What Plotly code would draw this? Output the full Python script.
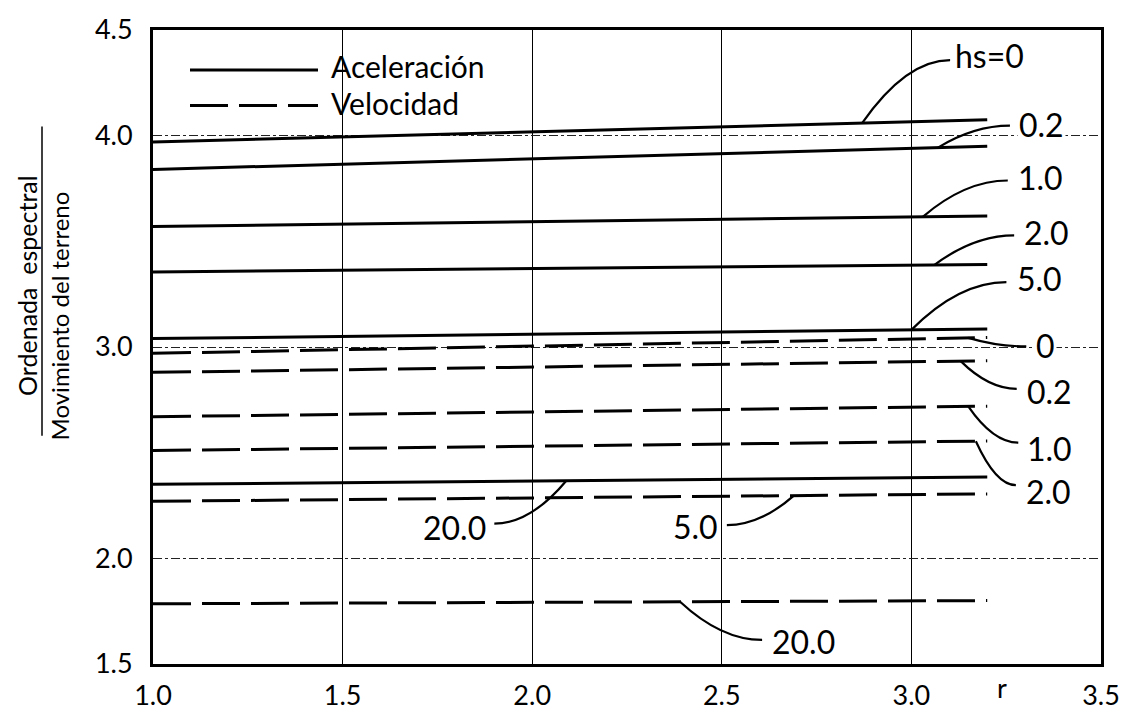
import plotly.graph_objects as go

# ---------------- data ----------------
r_start = 1.0
r_end = 3.2
hs_values = ["0", "0.2", "1.0", "2.0", "5.0", "20.0"]

# Aceleración (solid) ordinate at r = r_start and r = r_end
acel_start = [3.97, 3.84, 3.57, 3.355, 3.04, 2.35]
acel_end = [4.075, 3.95, 3.62, 3.39, 3.085, 2.385]
# Velocidad (dashed)
vel_start = [2.97, 2.88, 2.67, 2.51, 2.27, 1.785]
vel_end = [3.045, 2.935, 2.72, 2.555, 2.305, 1.80]

x_ticks = [1.0, 1.5, 2.0, 2.5, 3.0, 3.5]
y_ticks = [1.5, 2.0, 3.0, 4.0, 4.5]

# curve labels: where the leader touches the curve (r) and label text
acel_label_text = ["hs=0", "0.2", "1.0", "2.0", "5.0", "20.0"]
acel_label_r = [2.87, 3.07, 3.03, 3.06, 3.0, 2.09]
vel_label_text = ["0", "0.2", "1.0", "2.0", "5.0", "20.0"]
vel_label_r = [3.15, 3.13, 3.15, 3.17, 2.69, 2.39]

# ---------------- layout constants ----------------
FONT = "Lato"
W, H = 1144, 723
ML, MR, MT, MB = 153, 43, 22, 37
PW, PH = W - ML - MR, H - MT - MB
XR, YR = (1.0, 3.5), (1.5, 4.5)
DASH = "38px,11px"
LABEL_SIZE = 32

# leader end offset (px from anchor), text offset (px), text side
acel_leader = [(88, -66), (72, -23), (85, -38), (80, -31), (95, -50), (-72, 45)]
acel_text = [(91, -68), (79, -23), (93, -39), (88, -33), (104, -51), (-78, 47)]
vel_leader = [(58, 9), (56, 29), (50, 38), (40, 46), (-67, 31), (82, 40)]
vel_text = [(66, 8), (64, 30), (57, 42), (48, 50), (-74, 31), (90, 40)]


def interp(r, r0, r1, y0, y1):
    return y0 + (y1 - y0) * (r - r0) / (r1 - r0)


def px_to_dx(p):
    return p * (XR[1] - XR[0]) / PW


def px_to_dy(p):
    return -p * (YR[1] - YR[0]) / PH


def py_to_paper(py):
    return (H - MB - py) / PH


fig = go.Figure()

for i, hs in enumerate(hs_values):
    fig.add_trace(go.Scatter(
        x=[r_start, r_end], y=[acel_start[i], acel_end[i]],
        mode="lines", name=f"Aceleración hs={hs}",
        line=dict(color="black", width=3), showlegend=False))
    fig.add_trace(go.Scatter(
        x=[r_start, r_end], y=[vel_start[i], vel_end[i]],
        mode="lines", name=f"Velocidad hs={hs}",
        line=dict(color="black", width=3, dash=DASH), showlegend=False))

annotations = []
shapes = []
for i in range(len(hs_values)):
    for text, rr, starts, ends, lead, toff in (
        (acel_label_text[i], acel_label_r[i], acel_start, acel_end, acel_leader[i], acel_text[i]),
        (vel_label_text[i], vel_label_r[i], vel_start, vel_end, vel_leader[i], vel_text[i]),
    ):
        ya = interp(rr, r_start, r_end, starts[i], ends[i])
        xe, ye = rr + px_to_dx(lead[0]), ya + px_to_dy(lead[1])
        xc, yc = rr + px_to_dx(0.5 * lead[0]), ye
        shapes.append(dict(type="path", xref="x", yref="y",
                           path=f"M {rr},{ya} Q {xc},{yc} {xe},{ye}",
                           line=dict(color="black", width=2.2)))
        annotations.append(dict(
            x=rr, y=ya, xref="x", yref="y", text=text, showarrow=False,
            xshift=toff[0], yshift=-toff[1],
            xanchor="left" if toff[0] > 0 else "right", yanchor="middle",
            bgcolor="white", borderpad=1,
            font=dict(family=FONT, size=LABEL_SIZE, color="black")))

# legend (drawn manually to match the long line samples)
leg_x0, leg_x1, leg_tx = (190 - ML) / PW, (318 - ML) / PW, (330 - ML) / PW
leg_items = [("Aceleración", 64, 60, "solid"), ("Velocidad", 101, 98, DASH)]
for label, ly, ty, dash in leg_items:
    shapes.append(dict(type="line", xref="paper", yref="paper", x0=leg_x0, x1=leg_x1,
                       y0=py_to_paper(ly), y1=py_to_paper(ly),
                       line=dict(color="black", width=3, dash=dash)))
    annotations.append(dict(x=leg_tx, y=py_to_paper(ty), xref="paper", yref="paper",
                            text=label, showarrow=False, xanchor="left", yanchor="middle",
                            borderpad=0,
                            font=dict(family=FONT, size=30, color="black")))

# y-axis title as a fraction
shapes.append(dict(type="line", xref="paper", yref="paper",
                   x0=(42 - ML) / PW, x1=(42 - ML) / PW,
                   y0=py_to_paper(447), y1=py_to_paper(123),
                   line=dict(color="black", width=1.5)))
annotations.append(dict(x=(27 - ML) / PW, y=py_to_paper(290), xref="paper", yref="paper",
                        text="Ordenada  espectral", textangle=-90, showarrow=False,
                        xanchor="center", yanchor="middle",
                        font=dict(family=FONT, size=25, color="black")))
annotations.append(dict(x=(59 - ML) / PW, y=py_to_paper(322), xref="paper", yref="paper",
                        text="Movimiento del terreno", textangle=-90, showarrow=False,
                        xanchor="center", yanchor="middle",
                        font=dict(family=FONT, size=24, color="black")))
# x-axis title "r"
annotations.append(dict(x=3.24, y=py_to_paper(H - 12), xref="x", yref="paper", text="r",
                        showarrow=False, xanchor="center", yanchor="middle",
                        font=dict(family=FONT, size=27, color="black")))

fig.update_layout(
    width=W, height=H,
    margin=dict(l=ML, r=MR, t=MT, b=MB),
    paper_bgcolor="white", plot_bgcolor="white",
    font=dict(family=FONT, color="black"),
    annotations=annotations, shapes=shapes,
    xaxis=dict(range=list(XR), tickvals=x_ticks,
               ticktext=[f"{v:.1f}" for v in x_ticks],
               showgrid=True, gridcolor="black", gridwidth=1,
               showline=True, linecolor="black", linewidth=3, mirror=True,
               zeroline=False, ticks="", ticklabelstandoff=6,
               tickfont=dict(family=FONT, size=27, color="black")),
    yaxis=dict(range=list(YR), tickvals=y_ticks,
               ticktext=[f"{v:.1f}" for v in y_ticks],
               showgrid=True, gridcolor="#222", gridwidth=1, griddash="dashdot",
               showline=True, linecolor="black", linewidth=3, mirror=True,
               zeroline=False, ticks="", ticklabelstandoff=12,
               tickfont=dict(family=FONT, size=27, color="black")),
)

fig.write_html("out.html")
